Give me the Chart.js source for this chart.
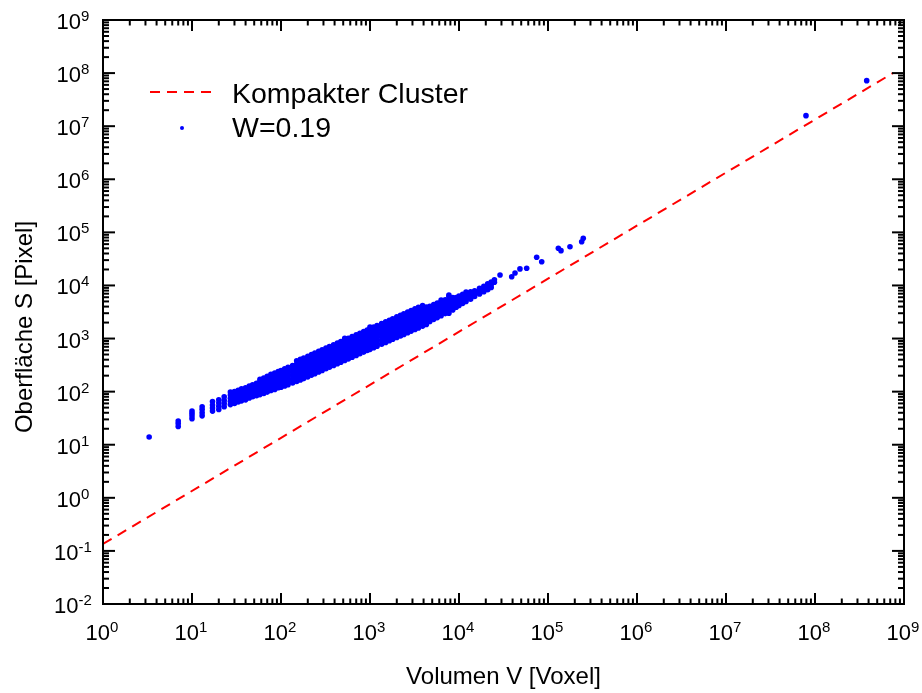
<!DOCTYPE html>
<html>
<head>
<meta charset="utf-8">
<script src="https://cdn.jsdelivr.net/npm/chart.js@4.4.1/dist/chart.umd.min.js"></script>
<style>
  body { margin: 0; background: #fff; }
  #wrap { width: 922px; height: 693px; }
</style>
</head>
<body>
<div id="wrap"><canvas id="sizeChart"></canvas></div>
<script>
// ------------- data
const volumes = [
  3.3, 7, 10, 13, 17, 20, 23,
  27, 30, 33, 36, 40, 44, 48, 53, 58, 64, 70, 77, 85, 93,
  100, 110, 120, 135, 150, 165, 180, 200, 220, 240, 265, 290, 320, 350, 390, 430, 470, 520, 570, 630, 700, 770, 850, 930,
  1000, 1100, 1200, 1350, 1500, 1650, 1800, 2000, 2200, 2400, 2650, 2900, 3200, 3500, 3900, 4300, 4700, 5200, 5700, 6300, 7000, 7700, 8500, 9300,
  10000, 11000, 12000, 13500, 15000, 17000, 19000, 21000, 23000, 25000,
  28900, 39100, 42600, 48400, 57600, 74600, 85000, 130700, 140000, 176600, 239000, 249000,
  7.92e7, 3.81e8
];

const surfaces = [
  [14], [22, 25, 28], [31, 35, 39, 43], [35, 40, 46, 52], [43, 49, 56, 65], [46, 53, 61, 70], [52, 60, 69, 80],
  [57, 66, 75, 86, 98], [60, 68, 77, 88, 100], [64, 72, 82, 93, 106], [67, 77, 87, 99, 113], [70, 80, 91, 104, 118],
  [76, 86, 98, 111, 127], [80, 91, 104, 118, 135], [84, 96, 110, 126, 144], [88, 102, 117, 134, 153, 170],
  [92, 107, 123, 140, 160, 180], [98, 114, 131, 150, 171, 195], [105, 122, 140, 160, 183, 212],
  [110, 129, 149, 170, 195, 225], [118, 137, 158, 181, 207, 240],
  [121, 142, 165, 190, 217, 250], [128, 151, 176, 203, 232, 268], [135, 160, 186, 215, 247, 286],
  [146, 172, 201, 233, 268, 310], [155, 183, 214, 248, 285, 330, 380], [166, 196, 229, 265, 305, 352, 405],
  [176, 208, 243, 282, 325, 374, 430], [190, 225, 263, 305, 350, 405, 465], [205, 242, 283, 327, 377, 435, 500],
  [218, 258, 301, 349, 402, 463, 535], [235, 277, 324, 375, 432, 498, 575], [250, 296, 346, 401, 462, 532, 612],
  [270, 320, 373, 432, 497, 573, 660], [288, 341, 398, 461, 531, 612, 710], [312, 370, 432, 500, 575, 662, 765],
  [336, 397, 464, 537, 618, 712, 820], [358, 424, 495, 573, 660, 760, 875], [386, 457, 534, 618, 712, 820, 945, 1010],
  [414, 489, 571, 661, 762, 878, 1010], [445, 526, 614, 711, 820, 945, 1090], [481, 569, 665, 770, 887, 1020, 1180],
  [516, 611, 714, 826, 952, 1095, 1260], [555, 657, 767, 888, 1020, 1180, 1360], [594, 702, 820, 950, 1095, 1260, 1450],
  [626, 741, 866, 1000, 1155, 1330, 1530, 1650], [672, 795, 929, 1075, 1240, 1425, 1640], [716, 847, 990, 1145, 1320, 1520, 1750],
  [782, 925, 1080, 1250, 1440, 1660, 1910], [845, 1000, 1170, 1350, 1555, 1795, 2060], [906, 1070, 1250, 1450, 1670, 1920, 2210],
  [967, 1145, 1335, 1545, 1780, 2050, 2360], [1047, 1240, 1445, 1675, 1930, 2220, 2560], [1122, 1330, 1550, 1795, 2070, 2380, 2740],
  [1197, 1416, 1655, 1915, 2205, 2540, 2920], [1290, 1525, 1780, 2060, 2375, 2735, 3150], [1380, 1630, 1905, 2200, 2540, 2925, 3360],
  [1480, 1755, 2050, 2370, 2730, 3145, 3620], [1580, 1870, 2190, 2530, 2915, 3360, 3860], [1715, 2030, 2370, 2740, 3160, 3640, 4180],
  [1840, 2180, 2545, 2945, 3390, 3900], [2100, 2420, 2780, 3150, 3560, 4050], [2300, 2640, 3000, 3390, 3840, 4350],
  [2480, 2830, 3220, 3630, 4100, 4650], [2700, 3060, 3470, 3900, 4400, 4980, 5300], [2950, 3330, 3760, 4220, 4750, 5350],
  [3000, 3500, 4000, 4600, 5300, 6200, 6600], [3450, 3600, 4050, 4600, 5200, 5900], [3900, 4380, 4850, 5350, 5950],
  [4200, 4700, 5200, 5750, 6300], [4600, 5100, 5600, 6200, 6800], [5000, 5600, 6200, 6900, 7500], [5500, 6200, 6900, 7600],
  [6200, 7000, 7900], [6900, 7800, 8800], [7600, 8600, 9600], [8300, 9500, 10800], [9200, 10400, 11600], [11500, 12800],
  [15700], [14600], [17200], [20500], [21100], [33900], [28000], [50100], [45200], [53700], [66700], [77300],
  [1.58e7], [7.2e7]
];

// compact cluster reference line (end points)
const clusterVolumes = [1, 7.5e8];
const clusterSurfaces = [0.135, 1.0e8];

const xTickExponents = [0, 1, 2, 3, 4, 5, 6, 7, 8, 9];
const yTickExponents = [-2, -1, 0, 1, 2, 3, 4, 5, 6, 7, 8, 9];

const seriesLabels = ['Kompakter Cluster', 'W=0.19'];
const xTitle = 'Volumen V [Voxel]';
const yTitle = 'Oberfläche S [Pixel]';

const FONT = '"Liberation Sans", Arial, Helvetica, sans-serif';

const X_MIN = Math.pow(10, xTickExponents[0]);
const X_MAX = Math.pow(10, xTickExponents[xTickExponents.length - 1]);
const Y_MIN = Math.pow(10, yTickExponents[0]);
const Y_MAX = Math.pow(10, yTickExponents[yTickExponents.length - 1]);

// build point list
const scatterPoints = [];
volumes.forEach((v, i) => {
  surfaces[i].forEach(s => scatterPoints.push({ x: v, y: s }));
});
const linePoints = clusterVolumes.map((v, i) => ({ x: v, y: clusterSurfaces[i] }));

// draws 10^n with a raised exponent, centred at cx
function drawPower(ctx, exp, cx, baseline) {
  ctx.font = '22px ' + FONT;
  const wBase = ctx.measureText('10').width;
  ctx.font = '15px ' + FONT;
  const wExp = ctx.measureText(String(exp)).width;
  const left = cx - (wBase + wExp) / 2;
  ctx.font = '22px ' + FONT;
  ctx.fillText('10', left, baseline);
  ctx.font = '15px ' + FONT;
  ctx.fillText(String(exp), left + wBase, baseline - 8);
}

const framePlugin = {
  id: 'frame',
  afterDraw(chart) {
    const { ctx, scales: { x, y } } = chart;
    const L = x.getPixelForValue(X_MIN), R = x.getPixelForValue(X_MAX);
    const T = y.getPixelForValue(Y_MAX), B = y.getPixelForValue(Y_MIN);
    ctx.save();
    ctx.strokeStyle = '#000';
    ctx.fillStyle = '#000';
    ctx.lineWidth = 2;
    ctx.strokeRect(L, T, R - L, B - T);

    const seg = (x1, y1, x2, y2) => {
      ctx.beginPath(); ctx.moveTo(x1, y1); ctx.lineTo(x2, y2); ctx.stroke();
    };

    // x ticks, bottom + top, pointing inwards
    xTickExponents.forEach(e => {
      for (let m = 1; m <= 9; m++) {
        const v = m * Math.pow(10, e);
        if (v > X_MAX * 1.0001) break;
        const px = x.getPixelForValue(v);
        const len = m === 1 ? 11 : 5.5;
        seg(px, B, px, B - len);
        seg(px, T, px, T + len);
      }
    });
    // y ticks, left + right
    yTickExponents.forEach(e => {
      for (let m = 1; m <= 9; m++) {
        const v = m * Math.pow(10, e);
        if (v > Y_MAX * 1.0001) break;
        const py = y.getPixelForValue(v);
        const len = m === 1 ? 12 : 6;
        seg(L, py, L + len, py);
        seg(R, py, R - len, py);
      }
    });

    // tick labels
    ctx.textAlign = 'left';
    ctx.textBaseline = 'alphabetic';
    xTickExponents.forEach(e => {
      drawPower(ctx, e, x.getPixelForValue(Math.pow(10, e)) - 1, 640);
    });
    yTickExponents.forEach(e => {
      drawPower(ctx, e, 73, y.getPixelForValue(Math.pow(10, e)) + 9);
    });

    // axis titles
    ctx.font = '24px ' + FONT;
    ctx.textAlign = 'center';
    ctx.fillText(xTitle, (L + R) / 2, 684);
    ctx.save();
    ctx.translate(32, 327);
    ctx.rotate(-Math.PI / 2);
    ctx.fillText(yTitle, 0, 0);
    ctx.restore();

    // legend
    const ds = chart.data.datasets;
    ctx.textAlign = 'left';
    ctx.strokeStyle = ds[0].borderColor;
    ctx.lineWidth = 2;
    ctx.setLineDash([10, 7]);
    seg(150, 92, 216, 92);
    ctx.setLineDash([]);
    ctx.fillStyle = ds[1].backgroundColor;
    ctx.beginPath(); ctx.arc(182, 128, 2, 0, Math.PI * 2); ctx.fill();
    ctx.fillStyle = '#000';
    ctx.font = '28.5px ' + FONT;
    ctx.fillText(ds[0].label, 232, 103);
    ctx.fillText(ds[1].label, 232, 137);
    ctx.restore();
  }
};

const ctx = document.getElementById('sizeChart').getContext('2d');

const sizeChart = new Chart(ctx, {
  type: 'scatter',
  data: {
    datasets: [
      {
        label: seriesLabels[0],
        data: linePoints,
        showLine: true,
        borderColor: '#ff0000',
        borderWidth: 2,
        borderDash: [10, 7],
        pointRadius: 0,
        order: 1
      },
      {
        label: seriesLabels[1],
        data: scatterPoints,
        backgroundColor: '#0000ff',
        borderWidth: 0,
        pointRadius: 2.8,
        order: 0
      }
    ]
  },
  options: {
    responsive: true,
    maintainAspectRatio: false,
    animation: false,
    layout: { padding: { top: 20, right: 18, left: 0, bottom: 0 } },
    scales: {
      x: {
        type: 'logarithmic',
        min: X_MIN,
        max: X_MAX,
        grid: { display: false },
        border: { display: false },
        ticks: { display: false },
        afterFit: s => { s.height = 89; }
      },
      y: {
        type: 'logarithmic',
        min: Y_MIN,
        max: Y_MAX,
        grid: { display: false },
        border: { display: false },
        ticks: { display: false },
        afterFit: s => { s.width = 103; }
      }
    },
    plugins: {
      legend: { display: false },
      tooltip: { enabled: false }
    }
  },
  plugins: [framePlugin]
});
</script>
</body>
</html>
